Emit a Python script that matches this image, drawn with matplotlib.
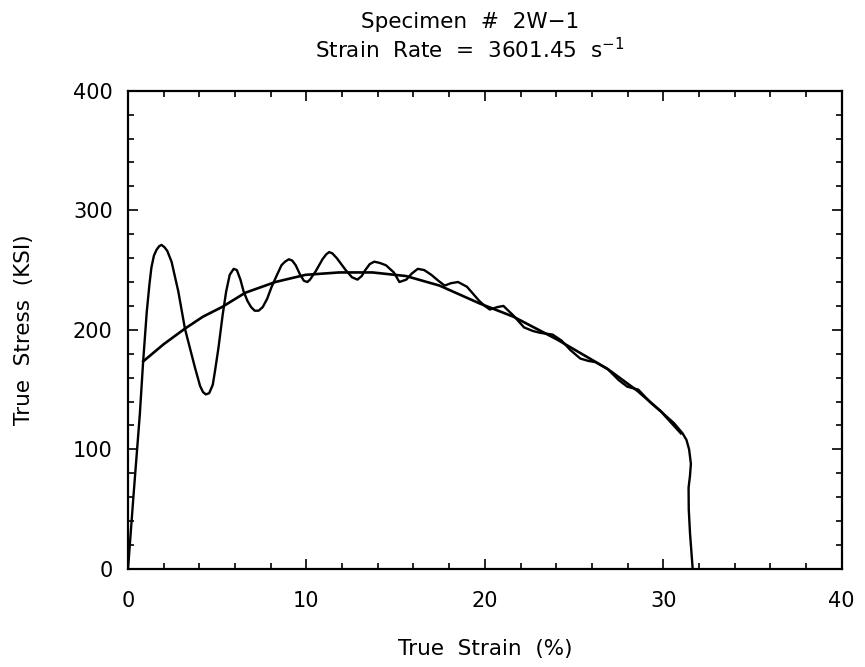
import matplotlib
matplotlib.use("Agg")
import matplotlib.pyplot as plt
from matplotlib.ticker import MultipleLocator

# oscillating (raw) stress-strain trace
raw_strain = [0, 0.3, 0.66, 0.85, 1.05, 1.2, 1.31, 1.45, 1.6, 1.75, 1.88, 2.05, 2.2, 2.44,
              2.82, 3.19, 3.5, 3.76, 4.04, 4.2, 4.36, 4.55, 4.75, 4.88, 5.07, 5.3, 5.5,
              5.7, 5.92, 6.1, 6.3, 6.48, 6.7, 6.9, 7.1, 7.32, 7.55, 7.8, 8.05, 8.26,
              8.6, 8.8, 9.01, 9.2, 9.4, 9.65, 9.86, 10.05, 10.2, 10.52, 10.9, 11.1,
              11.27, 11.45, 11.7, 12.2, 12.55, 12.86, 13.1, 13.3, 13.55, 13.8, 14.1,
              14.46, 14.9, 15.21, 15.6, 15.9, 16.24, 16.6, 17.0, 17.4, 17.75, 18.1,
              18.5, 19.0, 19.7, 20.0, 20.28, 20.7, 21.04, 21.6, 22.2, 22.7, 23.1, 23.8,
              24.3, 24.8, 25.35, 25.8, 26.2, 26.9, 27.5, 27.98, 28.6, 29.3, 30.0,
              30.6, 31.08, 31.3, 31.45, 31.55, 31.5, 31.42, 31.43, 31.5, 31.6, 31.65]
raw_stress = [0, 60, 129, 174, 215, 238, 252, 262, 267, 270, 271, 269, 266, 257,
              232, 201, 183, 168, 153, 148, 146, 147, 154, 166, 185, 212, 232,
              246, 251, 250, 242, 232, 224, 219, 216, 216, 219, 226, 236, 243,
              254, 257, 259, 258, 254, 246, 241, 240, 242, 249, 259, 263,
              265, 264, 260, 250, 244, 242, 245, 250, 255, 257, 256,
              254, 248, 240, 242, 247, 251, 250, 246, 241, 237, 239,
              240, 236, 224, 220, 217, 219, 220, 212, 202, 199, 197.5, 196,
              191, 183, 176, 174, 173, 167, 158, 152.5, 150, 139, 130,
              122, 113.5, 108, 100, 88, 78, 68, 50, 30, 10, 0]

# smooth fitted curve
fit_strain = [0.85, 2.0, 3.19, 4.2, 5.26, 6.57, 8.26, 9.95, 11.83, 13.7, 15.58, 17.46,
              19.72, 21.6, 24.04, 26.86, 28.55, 29.86, 30.99]
fit_stress = [173.6, 188, 201, 211, 219, 231, 240, 246, 248, 248, 245, 237,
              222, 211, 192, 167.5, 149, 132, 113.5]

x_ticks = [0, 10, 20, 30, 40]
y_ticks = [0, 100, 200, 300, 400]

fig = plt.figure(figsize=(8.65, 6.67), dpi=100)
ax = fig.add_axes([0.148, 0.147, 0.825, 0.717])

ax.plot(raw_strain, raw_stress, color='black', lw=1.7)
ax.plot(fit_strain, fit_stress, color='black', lw=1.9)

ax.set_xlim(0, 40)
ax.set_ylim(0, 400)
ax.set_xticks(x_ticks)
ax.set_yticks(y_ticks)
ax.xaxis.set_minor_locator(MultipleLocator(2))
ax.yaxis.set_minor_locator(MultipleLocator(20))
ax.tick_params(which='both', direction='in', top=True, right=True, width=1.2)
ax.tick_params(which='major', length=7, labelsize=15)
ax.tick_params(which='minor', length=4)
ax.tick_params(axis='x', pad=16)
ax.tick_params(axis='y', pad=11)
for s in ax.spines.values():
    s.set_linewidth(1.6)

ax.set_xlabel('True  Strain  (%)', fontsize=15.5, labelpad=20)
ax.set_ylabel('True  Stress  (KSI)', fontsize=15.5, labelpad=28)

fig.text(0.543, 0.982, 'Specimen  #  2W\u22121', ha='center', va='top', fontsize=15.5)
fig.text(0.543, 0.945, 'Strain  Rate  =  3601.45  s$^{-1}$', ha='center', va='top', fontsize=15.5)

fig.savefig('out.png', dpi=100)
